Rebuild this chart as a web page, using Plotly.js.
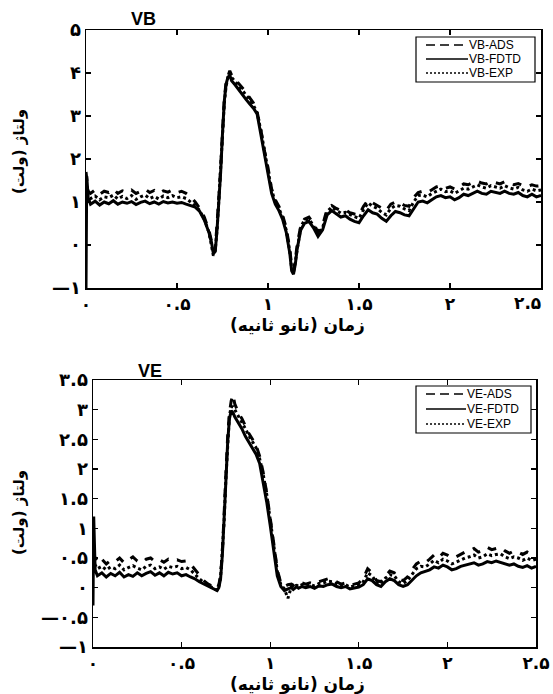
<!DOCTYPE html>
<html>
<head>
<meta charset="utf-8">
<script src="https://cdn.plot.ly/plotly-3.0.1.min.js"></script>
<style>html,body{margin:0;padding:0;background:#fff;}#chart{width:553px;height:694px;}</style>
</head>
<body>
<div id="chart"></div>
<script>
// time axis (ns), shared by both panels
const time = [0,0.004,0.012,0.025,0.05,0.075,0.10,0.125,0.15,0.175,0.20,0.225,0.25,0.275,0.30,0.325,0.35,0.375,0.40,0.425,0.45,0.475,0.50,0.525,0.55,0.575,0.60,0.625,0.65,0.675,
0.69,0.70,0.71,0.72,0.73,0.74,0.75,0.76,0.77,0.78,0.79,0.80,0.82,0.84,0.86,0.88,0.90,0.92,0.94,0.96,0.98,1.00,1.02,1.04,1.06,1.08,1.10,1.12,1.13,1.14,1.15,1.16,1.18,1.20,
1.225,1.25,1.275,1.30,1.325,1.35,1.375,1.40,1.425,1.45,1.475,1.50,1.525,1.55,1.575,1.60,1.625,1.65,1.675,1.70,1.725,1.75,1.775,1.80,1.825,1.85,1.875,1.90,1.925,1.95,1.975,2.00,2.025,2.05,2.075,2.10,2.125,2.15,2.175,2.20,2.225,2.25,2.275,2.30,2.325,2.35,2.375,2.40,2.425,2.45,2.475,2.50];

// VB panel (volts)
const vbADS = [1.7,1.5,1.25,1.2,1.28,1.18,1.25,1.22,1.3,1.2,1.26,1.22,1.28,1.2,1.25,1.3,1.22,1.27,1.2,1.26,1.23,1.28,1.22,1.25,1.2,1.12,1.0,0.85,0.65,0.35,
0.08,-0.15,-0.1,0.4,1.1,1.8,2.7,3.4,3.8,3.95,4.05,3.95,3.85,3.75,3.65,3.55,3.42,3.3,3.1,2.7,2.2,1.8,1.3,1.05,0.9,0.7,0.4,-0.1,-0.5,-0.6,-0.35,0.0,0.45,0.6,
0.65,0.5,0.3,0.45,0.85,0.92,0.85,0.8,0.82,0.75,0.72,0.7,0.9,1.05,0.98,0.92,0.85,0.8,0.95,1.0,0.98,0.92,0.9,1.1,1.22,1.25,1.22,1.28,1.35,1.38,1.32,1.35,1.3,1.35,1.42,1.4,1.45,1.48,1.44,1.42,1.48,1.45,1.42,1.47,1.42,1.4,1.43,1.38,1.36,1.4,1.37,1.38];
const vbFDTD = [-1.0,1.6,1.1,0.95,1.02,0.93,1.0,0.96,1.03,0.95,1.0,0.97,1.01,0.94,0.99,1.02,0.96,1.0,0.95,1.01,0.98,1.0,0.97,0.99,0.95,0.92,0.88,0.78,0.58,0.3,
0.05,-0.2,-0.15,0.35,1.0,1.7,2.6,3.35,3.75,3.9,3.95,3.82,3.72,3.6,3.48,3.38,3.28,3.18,3.05,2.6,2.1,1.7,1.2,0.95,0.8,0.6,0.3,-0.2,-0.6,-0.68,-0.45,-0.1,0.35,0.5,
0.55,0.4,0.2,0.35,0.7,0.8,0.72,0.65,0.68,0.6,0.55,0.52,0.68,0.82,0.75,0.72,0.62,0.55,0.68,0.78,0.75,0.7,0.68,0.85,1.0,1.02,0.98,1.05,1.12,1.15,1.1,1.12,1.05,1.1,1.18,1.15,1.2,1.25,1.2,1.18,1.25,1.22,1.2,1.25,1.2,1.18,1.22,1.15,1.12,1.18,1.12,1.15];
const vbEXP = [1.3,1.4,1.15,1.08,1.14,1.05,1.12,1.1,1.16,1.07,1.13,1.08,1.15,1.06,1.12,1.16,1.08,1.13,1.07,1.14,1.1,1.15,1.1,1.12,1.08,1.0,0.92,0.8,0.6,0.3,
0.0,-0.25,-0.12,0.35,1.05,1.75,2.65,3.3,3.7,3.9,4.0,3.9,3.8,3.7,3.6,3.5,3.38,3.25,3.08,2.68,2.2,1.78,1.28,1.0,0.85,0.65,0.35,-0.15,-0.55,-0.65,-0.4,-0.05,0.42,0.58,
0.6,0.45,0.25,0.4,0.78,0.88,0.8,0.74,0.76,0.7,0.66,0.62,0.82,0.98,0.9,0.85,0.76,0.7,0.85,0.92,0.9,0.84,0.8,1.0,1.15,1.16,1.12,1.2,1.26,1.3,1.24,1.26,1.2,1.26,1.32,1.3,1.35,1.4,1.35,1.32,1.38,1.35,1.32,1.38,1.33,1.3,1.34,1.28,1.25,1.3,1.26,1.28];

// VE panel (volts)
const veADS = [0.6,0.55,0.5,0.42,0.48,0.4,0.46,0.44,0.5,0.42,0.47,0.52,0.45,0.42,0.48,0.5,0.44,0.47,0.43,0.48,0.45,0.47,0.44,0.45,0.4,0.3,0.2,0.12,0.06,0.02,
0.0,-0.02,0.05,0.2,0.6,1.15,1.9,2.55,2.95,3.15,3.25,3.1,2.95,2.85,2.72,2.6,2.5,2.4,2.22,1.95,1.6,1.2,0.75,0.3,0.08,0.02,0.05,0.06,0.04,0.07,0.06,0.05,0.08,0.06,
0.08,0.06,0.1,0.12,0.15,0.14,0.1,0.06,0.08,0.04,0.06,0.08,0.15,0.32,0.25,0.12,0.1,0.2,0.28,0.25,0.15,0.12,0.18,0.3,0.4,0.45,0.42,0.48,0.55,0.5,0.58,0.55,0.5,0.52,0.56,0.6,0.62,0.66,0.6,0.62,0.68,0.64,0.66,0.68,0.62,0.58,0.62,0.6,0.56,0.6,0.56,0.58];
const veFDTD = [-0.3,1.2,0.3,0.2,0.25,0.18,0.24,0.2,0.26,0.18,0.22,0.19,0.25,0.2,0.24,0.27,0.21,0.25,0.2,0.26,0.23,0.25,0.2,0.22,0.18,0.15,0.1,0.06,0.02,-0.02,
-0.04,-0.05,0.0,0.15,0.55,1.1,1.8,2.45,2.85,2.98,2.95,2.88,2.78,2.68,2.55,2.45,2.35,2.25,2.1,1.8,1.45,1.05,0.6,0.2,0.02,-0.05,-0.02,0.0,-0.03,0.0,0.02,-0.01,0.02,0.0,
0.02,-0.01,0.03,0.02,0.05,0.06,0.02,0.0,0.02,-0.02,0.0,0.01,0.05,0.15,0.12,0.05,0.02,0.1,0.15,0.12,0.05,0.02,0.05,0.12,0.2,0.25,0.28,0.3,0.35,0.33,0.38,0.35,0.3,0.32,0.36,0.38,0.4,0.42,0.38,0.4,0.44,0.42,0.45,0.43,0.4,0.38,0.4,0.36,0.34,0.37,0.33,0.36];
const veEXP = [0.9,0.5,0.38,0.32,0.36,0.3,0.35,0.32,0.38,0.3,0.34,0.37,0.33,0.3,0.36,0.38,0.32,0.35,0.31,0.36,0.34,0.36,0.32,0.34,0.3,0.22,0.15,0.09,0.04,0.0,
-0.03,-0.04,0.02,0.18,0.58,1.12,1.85,2.5,2.9,3.05,3.05,3.0,2.9,2.8,2.68,2.56,2.46,2.36,2.18,1.92,1.58,1.18,0.72,0.28,0.05,-0.02,-0.18,0.02,0.0,0.03,0.04,0.02,0.05,0.03,
0.05,0.03,0.07,0.08,0.11,0.1,0.06,0.03,0.05,0.01,0.03,0.05,0.1,0.25,0.2,0.08,0.06,0.16,0.22,0.2,0.1,0.07,0.12,0.22,0.32,0.36,0.35,0.4,0.46,0.42,0.48,0.45,0.4,0.43,0.47,0.5,0.52,0.55,0.5,0.52,0.57,0.54,0.56,0.57,0.52,0.49,0.52,0.5,0.46,0.5,0.46,0.48];

// tick values and Persian tick labels
const xTickVals = [0,0.5,1,1.5,2,2.5];
const xTickText = ["۰","۰.۵","۱","۱.۵","۲","۲.۵"];
const vbTickVals = [-1,0,1,2,3,4,5];
const vbTickText = ["—۱","۰","۱","۲","۳","۴","۵"];
const veTickVals = [-1,-0.5,0,0.5,1,1.5,2,2.5,3,3.5];
const veTickText = ["—۱","—۰.۵","۰","۰.۵","۱","۱.۵","۲","۲.۵","۳","۳.۵"];

const xTitle = "زمان (نانو ثانیه)";
const yTitle = "ولتاژ (ولت)";
const vbNames = ["VB-ADS", "VB-FDTD", "VB-EXP"];
const veNames = ["VE-ADS", "VE-FDTD", "VE-EXP"];
const dashes = ["dash", "solid", "dot"];
const legendDashes = ["9px,5px", "solid", "2px,2px"];

const W = 553, H = 694;
const px = v => v / W, py = v => 1 - v / H;

const xTitleFont = {family: "DejaVu Sans", size: 17, color: "#000", weight: "bold"};
const yTitleFont = {family: "DejaVu Sans", size: 15, color: "#000", weight: "bold"};
const latinBold = {family: "Liberation Sans, Arial", size: 18, color: "#000", weight: "bold"};
const legendFont = {family: "Liberation Sans, Arial", size: 12, color: "#000"};
const xTickFont = {family: "DejaVu Sans", size: 17, color: "#000", weight: "bold"};

function line(x, y, name, dash, xa, ya) {
  return {x: x, y: y, name: name, type: "scatter", mode: "lines", showlegend: false,
    line: {color: "#000", width: 3, dash: dash}, xaxis: xa, yaxis: ya};
}

const data = [
  line(time, vbADS, vbNames[0], dashes[0], "x", "y"),
  line(time, vbFDTD, vbNames[1], dashes[1], "x", "y"),
  line(time, vbEXP, vbNames[2], dashes[2], "x", "y"),
  line(time, veADS, veNames[0], dashes[0], "x2", "y2"),
  line(time, veFDTD, veNames[1], dashes[1], "x2", "y2"),
  line(time, veEXP, veNames[2], dashes[2], "x2", "y2")
];

function axis(extra) {
  return Object.assign({
    showline: true, linecolor: "#000", linewidth: 1.5, mirror: "ticks",
    ticks: "inside", ticklen: 5, tickwidth: 1.2, tickcolor: "#000",
    showgrid: false, zeroline: false, tickmode: "array",
    tickfont: {family: "DejaVu Sans", size: 18, color: "#000", weight: "bold"},
    ticklabeloverflow: "allow", fixedrange: true
  }, extra);
}

// hand-drawn legends (box, sample lines, labels) in paper coordinates
const shapes = [], annotations = [];
function addLegend(names, left, right, top, bottom, rows, sx0, sx1, tx) {
  shapes.push({type: "rect", xref: "paper", yref: "paper", x0: px(left), x1: px(right), y0: py(bottom), y1: py(top),
    line: {color: "#000", width: 1.2}, fillcolor: "#fff", layer: "above"});
  names.forEach((n, i) => {
    shapes.push({type: "line", xref: "paper", yref: "paper", x0: px(sx0), x1: px(sx1), y0: py(rows[i]), y1: py(rows[i]),
      line: {color: "#000", width: 1.5, dash: legendDashes[i]}, layer: "above"});
    annotations.push({text: n, x: px(tx), y: py(rows[i]), xref: "paper", yref: "paper", showarrow: false,
      xanchor: "left", yanchor: "middle", font: legendFont});
  });
}
addLegend(vbNames, 416, 535, 37, 82, [45, 59, 73], 426, 468, 467);
addLegend(veNames, 416, 531, 386, 433, [394, 409, 424], 426, 466, 465);

// top panel: the last x tick label sits left of its tick so it stays inside the figure
const lastTick = xTickVals.length - 1;
const xTickTextTop = xTickText.map((t, i) => i === lastTick ? "" : t);
annotations.push({text: xTickText[lastTick], x: xTickVals[lastTick], xref: "x", y: py(303), yref: "paper",
  showarrow: false, xanchor: "center", yanchor: "middle", xshift: -14, font: xTickFont});

annotations.push(
  {text: "VB", x: px(143), y: py(19), xref: "paper", yref: "paper", showarrow: false, xanchor: "center", yanchor: "middle", font: latinBold},
  {text: "VE", x: px(150), y: py(371), xref: "paper", yref: "paper", showarrow: false, xanchor: "center", yanchor: "middle", font: latinBold},
  {text: xTitle, x: px(297), y: py(325), xref: "paper", yref: "paper", showarrow: false, xanchor: "center", yanchor: "middle", font: xTitleFont},
  {text: xTitle, x: px(297), y: py(684), xref: "paper", yref: "paper", showarrow: false, xanchor: "center", yanchor: "middle", font: xTitleFont},
  {text: yTitle, x: px(19), y: py(152), xref: "paper", yref: "paper", showarrow: false, xanchor: "center", yanchor: "middle", textangle: -90, font: yTitleFont},
  {text: yTitle, x: px(19), y: py(513), xref: "paper", yref: "paper", showarrow: false, xanchor: "center", yanchor: "middle", textangle: -90, font: yTitleFont}
);

const layout = {
  width: W, height: H,
  margin: {l: 0, r: 0, t: 0, b: 0},
  paper_bgcolor: "#fff", plot_bgcolor: "#fff",
  showlegend: false,
  xaxis: axis({domain: [px(86), px(541)], range: [0, 2.5], anchor: "y", tickvals: xTickVals, ticktext: xTickTextTop,
    tickfont: xTickFont, ticklabelstandoff: 0}),
  yaxis: axis({domain: [py(288), py(30)], range: [-1, 5], anchor: "x", tickvals: vbTickVals, ticktext: vbTickText}),
  xaxis2: axis({domain: [px(93), px(536)], range: [0, 2.5], anchor: "y2", tickvals: xTickVals, ticktext: xTickText,
    tickfont: xTickFont, ticklabelstandoff: 0}),
  yaxis2: axis({domain: [py(647), py(380)], range: [-1, 3.5], anchor: "x2", tickvals: veTickVals, ticktext: veTickText}),
  shapes: shapes,
  annotations: annotations
};

Plotly.newPlot("chart", data, layout, {displayModeBar: false, staticPlot: true});
</script>
</body>
</html>
